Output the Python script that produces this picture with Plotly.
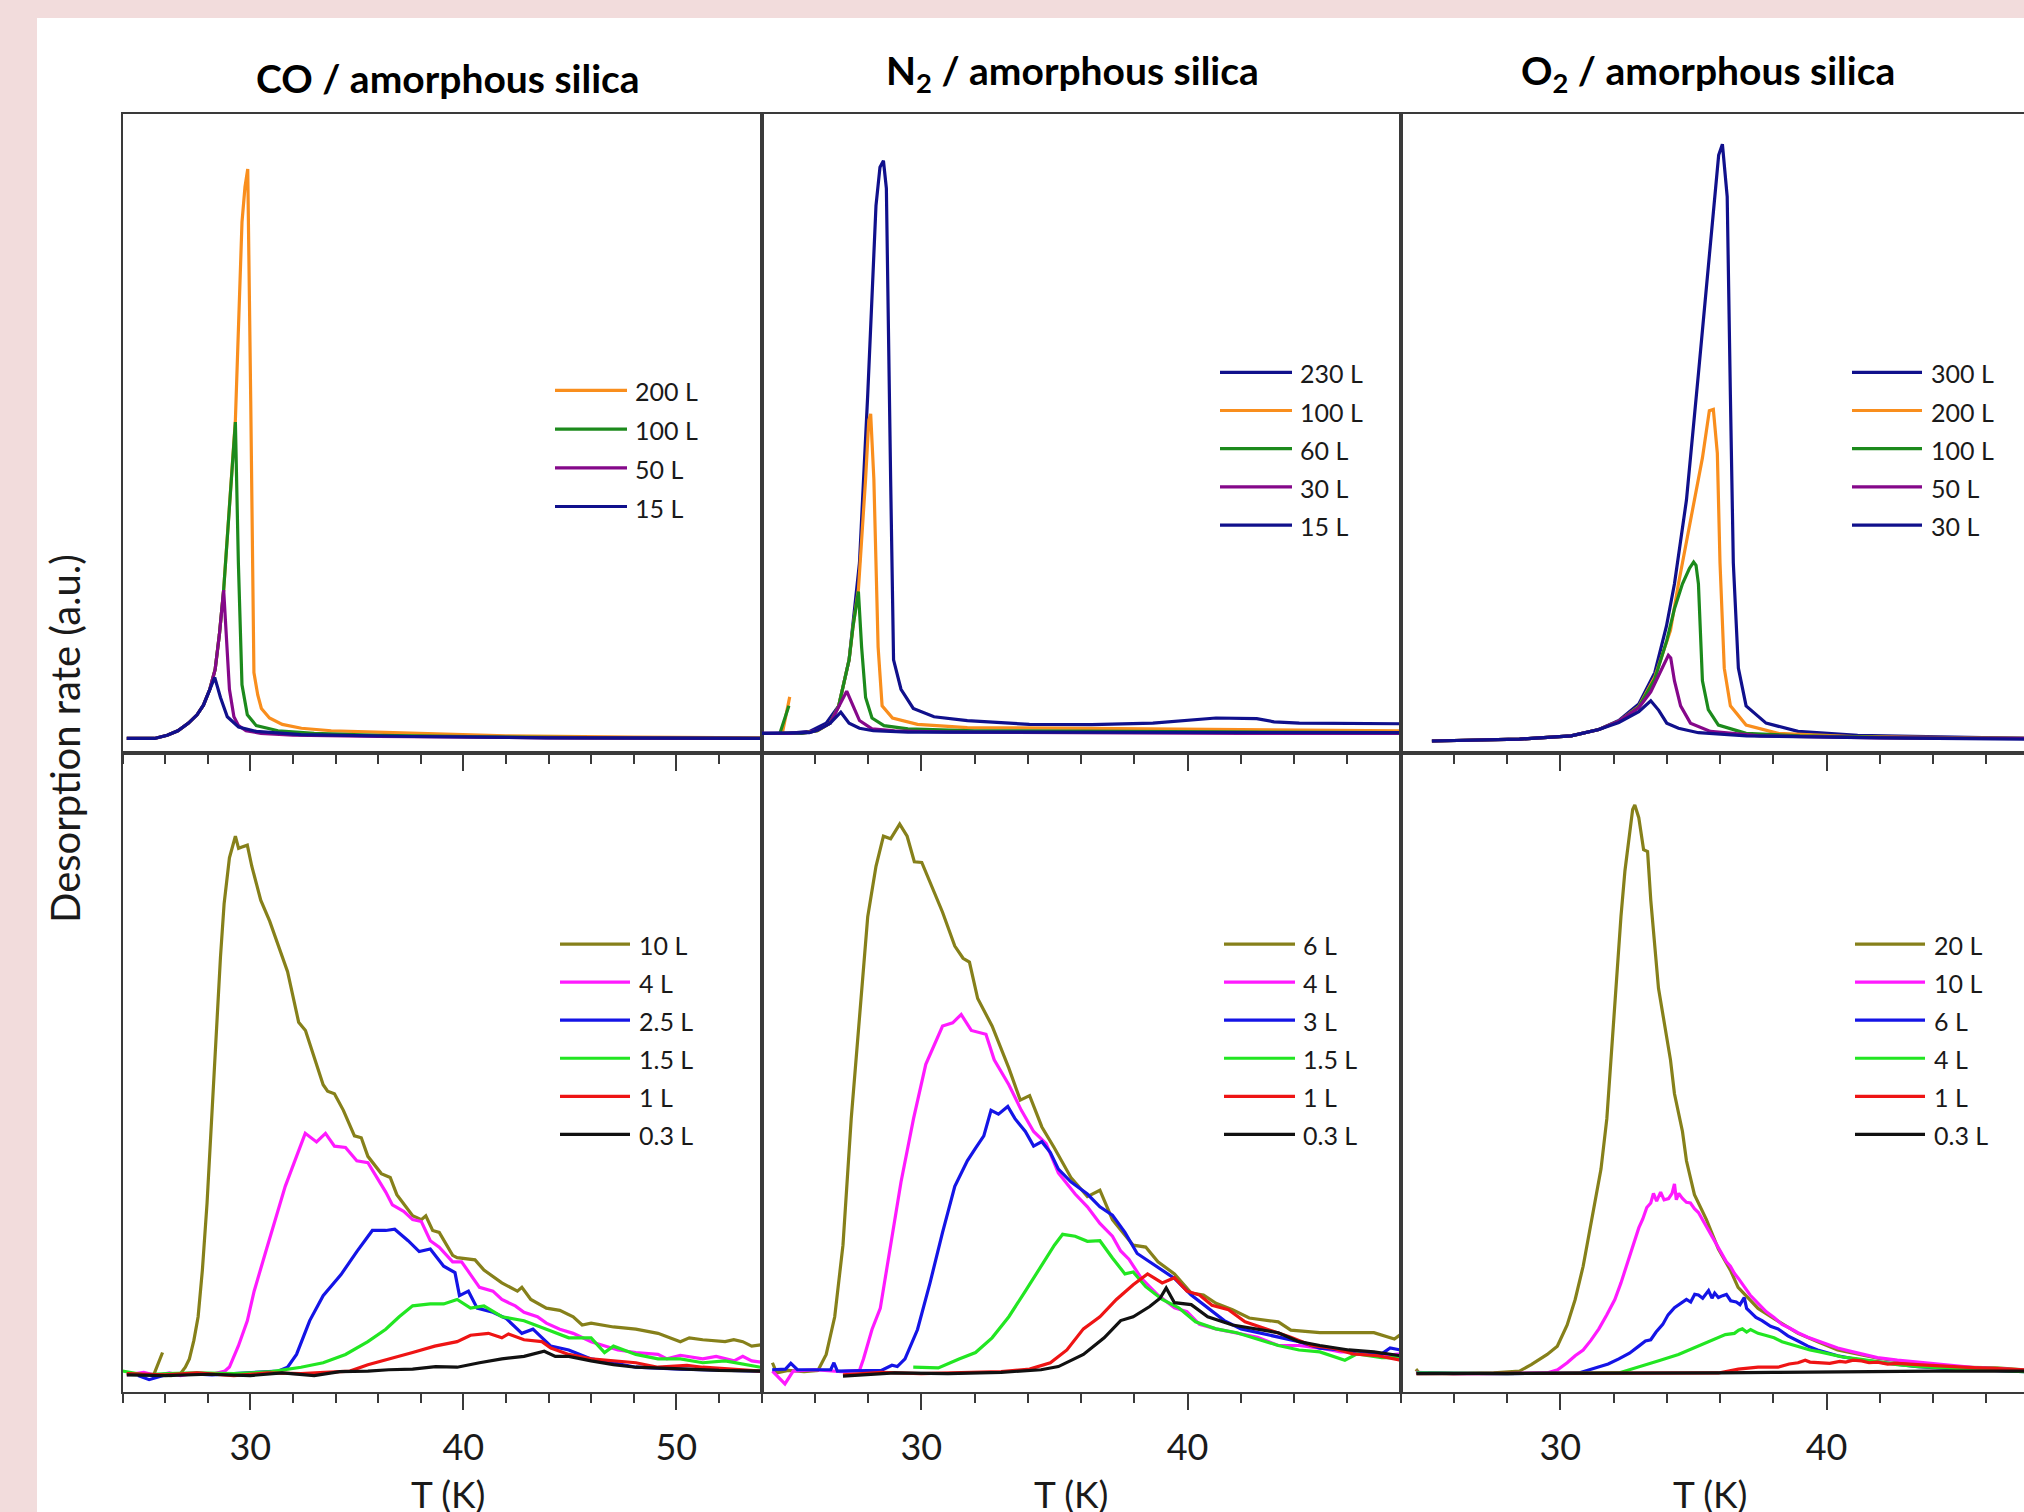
import plotly.graph_objects as go

W, H = 2024, 1512
FONT = "Lato, 'Open Sans', sans-serif"

# ---------------- labels ----------------
PANEL_TITLES = ["CO / amorphous silica", "N<sub>2</sub> / amorphous silica", "O<sub>2</sub> / amorphous silica"]
X_TITLE = "T (K)"
Y_TITLE = "Desorption rate (a.u.)"
X_TICKS_CO = [30, 40, 50]
X_TICKS_N2O2 = [30, 40]

CO_HI_LABELS = ["200 L", "100 L", "50 L", "15 L"]
N2_HI_LABELS = ["230 L", "100 L", "60 L", "30 L", "15 L"]
O2_HI_LABELS = ["300 L", "200 L", "100 L", "50 L", "30 L"]
CO_LO_LABELS = ["10 L", "4 L", "2.5 L", "1.5 L", "1 L", "0.3 L"]
N2_LO_LABELS = ["6 L", "4 L", "3 L", "1.5 L", "1 L", "0.3 L"]
O2_LO_LABELS = ["20 L", "10 L", "6 L", "4 L", "1 L", "0.3 L"]

# ---------------- CO, high exposures ----------------
co_hi_T_200 = [24.2, 25.5, 26.1, 26.6, 27.1, 27.5, 27.8, 28.1, 28.35, 28.55, 28.75, 29.0, 29.3, 29.45, 29.61, 29.75, 29.88, 30.02, 30.17, 30.35, 30.52, 30.9, 31.5, 32.4, 33.8, 35.9, 38.0, 42.0, 48.0, 54.0]
co_hi_R_200 = [2.2, 2.2, 2.7, 3.4, 4.6, 5.9, 7.4, 9.9, 13.0, 18.5, 25.5, 37.5, 52.0, 67.0, 83.0, 88.5, 91.3, 55.0, 12.5, 9.0, 6.9, 5.4, 4.4, 3.8, 3.4, 3.2, 3.0, 2.6, 2.4, 2.3]
co_hi_T_100 = [24.2, 25.5, 26.1, 26.6, 27.1, 27.5, 27.8, 28.1, 28.35, 28.55, 28.75, 29.0, 29.3, 29.44, 29.61, 29.86, 30.28, 31.3, 33.0, 36.0, 42.0, 48.0, 54.0]
co_hi_R_100 = [2.2, 2.2, 2.7, 3.4, 4.6, 5.9, 7.4, 9.9, 13.0, 18.5, 25.5, 37.5, 51.7, 29.7, 10.6, 5.9, 4.2, 3.4, 3.0, 2.7, 2.4, 2.3, 2.2]
co_hi_T_50 = [24.2, 25.5, 26.1, 26.6, 27.1, 27.5, 27.8, 28.1, 28.35, 28.55, 28.75, 29.02, 29.23, 29.45, 29.8, 30.5, 32.0, 36.0, 44.0, 54.0]
co_hi_R_50 = [2.2, 2.2, 2.7, 3.4, 4.6, 5.9, 7.4, 9.9, 13.0, 18.5, 25.4, 9.9, 5.6, 4.2, 3.4, 3.0, 2.7, 2.5, 2.3, 2.2]
co_hi_T_15 = [24.2, 25.5, 26.1, 26.6, 27.1, 27.5, 27.8, 28.1, 28.33, 28.6, 28.92, 29.45, 30.28, 32.37, 37.6, 43.9, 54.0]
co_hi_R_15 = [2.2, 2.2, 2.7, 3.4, 4.6, 5.9, 7.4, 9.9, 11.75, 8.6, 5.6, 4.0, 3.3, 2.8, 2.5, 2.3, 2.2]

# ---------------- N2, high exposures ----------------
n2_hi_T_230 = [24.0, 25.0, 25.81, 26.43, 26.9, 27.29, 27.68, 27.99, 28.3, 28.45, 28.58, 28.69, 28.85, 28.96, 29.24, 29.7, 30.48, 31.73, 34.06, 36.4, 38.7, 40.3, 41.07, 42.6, 43.25, 44.2, 46.0, 48.0]
n2_hi_R_230 = [3.0, 3.0, 3.3, 4.6, 7.3, 14.5, 29.7, 56.0, 85.6, 91.6, 92.6, 88.3, 42.8, 14.5, 9.9, 6.9, 5.6, 5.0, 4.4, 4.35, 4.6, 5.2, 5.4, 5.3, 4.8, 4.6, 4.6, 4.5]
n2_hi_T_100 = [25.06, 24.78, 25.5, 26.1, 26.58, 26.9, 27.29, 27.44, 27.64, 27.76, 27.91, 28.03, 28.1, 28.22, 28.38, 28.53, 28.92, 29.86, 31.73, 35.0, 39.5, 44.2, 48.0]
n2_hi_R_100 = [8.7, 3.0, 3.0, 3.4, 4.6, 7.3, 14.5, 19.8, 25.5, 33.0, 42.8, 52.0, 53.0, 42.8, 16.5, 7.3, 5.4, 4.4, 3.9, 3.8, 3.7, 3.6, 3.4]
n2_hi_T_60 = [25.03, 24.69, 25.5, 26.1, 26.58, 26.9, 27.29, 27.44, 27.64, 27.76, 27.91, 28.15, 28.6, 29.5, 32.0, 38.0, 44.0, 48.0]
n2_hi_R_60 = [7.3, 3.0, 3.0, 3.4, 4.6, 7.3, 14.5, 19.8, 25.2, 16.5, 8.6, 5.4, 4.2, 3.7, 3.4, 3.3, 3.2, 3.1]
n2_hi_T_30 = [24.0, 25.0, 25.8, 26.1, 26.58, 26.9, 27.2, 27.44, 27.68, 28.15, 29.0, 31.0, 36.0, 42.0, 48.0]
n2_hi_R_30 = [3.0, 3.0, 3.2, 3.5, 4.6, 7.3, 9.6, 7.3, 5.0, 3.7, 3.4, 3.2, 3.1, 3.0, 3.0]
n2_hi_T_15 = [24.0, 25.0, 25.8, 26.1, 26.58, 26.98, 27.29, 27.68, 28.2, 29.5, 32.0, 36.9, 42.0, 48.0]
n2_hi_R_15 = [3.0, 3.0, 3.1, 3.5, 4.6, 6.3, 4.6, 3.8, 3.4, 3.2, 3.2, 3.1, 3.1, 3.1]

# ---------------- O2, high exposures ----------------
o2_hi_T_300 = [25.18, 28.47, 30.41, 31.45, 32.2, 32.95, 33.55, 33.99, 34.29, 34.74, 35.19, 35.64, 35.95, 36.09, 36.27, 36.39, 36.5, 36.69, 36.98, 37.73, 38.93, 41.17, 44.9, 47.42]
o2_hi_R_300 = [1.8, 2.1, 2.6, 3.6, 5.0, 7.6, 12.5, 19.8, 26.4, 39.5, 59.3, 79.1, 93.5, 95.2, 87.0, 56.0, 29.7, 13.2, 7.3, 4.6, 3.3, 2.7, 2.35, 2.2]
o2_hi_T_200 = [25.18, 28.47, 30.41, 31.45, 32.2, 32.95, 33.55, 34.14, 34.44, 34.74, 35.04, 35.34, 35.6, 35.75, 35.9, 36.0, 36.16, 36.39, 36.98, 38.18, 41.0, 44.5, 47.42]
o2_hi_R_200 = [1.8, 2.1, 2.6, 3.6, 4.9, 7.2, 11.8, 19.1, 26.4, 33.0, 39.5, 46.1, 53.5, 53.7, 46.8, 29.7, 13.2, 7.3, 4.3, 3.0, 2.5, 2.3, 2.2]
o2_hi_T_100 = [25.18, 28.47, 30.41, 31.45, 32.2, 32.95, 33.55, 34.0, 34.29, 34.59, 34.85, 35.01, 35.1, 35.19, 35.34, 35.56, 35.94, 36.98, 39.0, 43.0, 47.42]
o2_hi_R_100 = [1.8, 2.1, 2.6, 3.6, 4.9, 7.1, 11.5, 17.5, 22.5, 26.4, 28.8, 29.8, 29.3, 26.4, 11.2, 6.7, 4.3, 3.0, 2.6, 2.3, 2.2]
o2_hi_T_50 = [25.18, 28.47, 30.41, 31.45, 32.2, 32.95, 33.4, 33.7, 34.06, 34.15, 34.29, 34.52, 34.89, 35.64, 37.5, 42.0, 47.42]
o2_hi_R_50 = [1.8, 2.1, 2.6, 3.6, 4.9, 7.0, 9.5, 12.0, 15.2, 14.8, 11.2, 7.3, 4.6, 3.3, 2.6, 2.3, 2.2]
o2_hi_T_30 = [25.18, 28.47, 30.41, 31.45, 32.2, 32.95, 33.4, 33.7, 34.0, 34.44, 35.19, 37.0, 42.0, 47.42]
o2_hi_R_30 = [1.8, 2.1, 2.6, 3.6, 4.7, 6.4, 8.1, 6.6, 4.6, 3.8, 3.1, 2.6, 2.3, 2.1]

# ---------------- CO, low exposures ----------------
co_lo_T_10 = [25.88, 25.42, 25.9, 26.3, 26.72, 26.95, 27.14, 27.35, 27.55, 27.75, 27.97, 28.2, 28.39, 28.6, 28.77, 29.02, 29.3, 29.45, 29.61, 29.86, 30.07, 30.49, 30.91, 31.33, 31.75, 32.27, 32.59, 33.42, 33.63, 33.95, 34.37, 34.89, 35.21, 35.52, 36.15, 36.57, 36.88, 37.62, 38.03, 38.24, 38.56, 38.87, 39.5, 39.71, 40.55, 40.97, 41.81, 42.54, 42.75, 43.17, 43.9, 44.53, 45.16, 45.58, 46.0, 47.05, 48.1, 49.14, 50.19, 50.61, 51.24, 52.29, 52.7, 53.12, 53.54, 53.96]
co_lo_R_10 = [6.1, 2.2, 2.6, 2.5, 2.8, 3.8, 5.1, 8.0, 11.7, 19.0, 29.5, 44.0, 55.9, 68.0, 76.3, 83.5, 86.9, 85.0, 85.2, 85.5, 82.2, 76.9, 73.6, 69.7, 65.7, 57.8, 56.5, 48.0, 47.0, 46.6, 44.0, 40.0, 39.7, 36.8, 34.1, 33.5, 30.8, 27.5, 26.9, 27.5, 25.2, 24.9, 21.3, 20.95, 20.6, 19.0, 17.0, 15.7, 16.3, 14.4, 13.05, 12.7, 11.7, 10.4, 10.7, 10.1, 9.75, 9.1, 7.8, 8.4, 8.1, 7.8, 8.1, 7.8, 7.1, 7.3]
co_lo_T_4 = [24.2, 25.0, 25.6, 26.2, 26.72, 27.5, 28.2, 28.81, 29.02, 29.44, 29.86, 30.18, 30.7, 31.22, 31.64, 32.17, 32.58, 33.11, 33.53, 33.95, 34.47, 35.0, 35.52, 35.94, 36.36, 36.67, 37.2, 37.62, 38.03, 38.45, 38.87, 39.5, 39.92, 40.34, 40.76, 41.39, 41.81, 42.44, 42.85, 43.48, 43.9, 44.53, 45.16, 46.0, 46.63, 47.26, 48.1, 49.14, 49.56, 50.19, 51.24, 51.87, 52.71, 53.12, 53.54, 53.96]
co_lo_R_4 = [2.6, 3.0, 2.5, 2.9, 2.5, 2.9, 2.7, 3.2, 3.83, 7.12, 11.07, 15.7, 21.6, 27.5, 32.1, 36.8, 40.4, 39.06, 40.4, 38.4, 38.2, 36.1, 35.8, 33.5, 31.2, 29.2, 28.2, 26.9, 26.6, 23.6, 22.6, 20.3, 20.3, 18.3, 16.3, 15.7, 14.4, 13.4, 12.4, 11.7, 10.7, 9.75, 9.1, 7.8, 7.1, 6.5, 6.1, 5.8, 5.1, 5.67, 5.1, 5.5, 4.8, 5.5, 4.8, 4.6]
co_lo_T_25 = [24.73, 25.25, 26.0, 27.14, 28.2, 29.23, 30.3, 31.33, 31.75, 32.17, 32.79, 33.42, 34.26, 35.0, 35.73, 36.36, 36.78, 37.41, 37.93, 38.45, 39.08, 39.61, 39.82, 40.24, 40.65, 41.39, 42.02, 42.75, 43.27, 44.11, 44.95, 46.0, 47.05, 48.1, 50.19, 52.29, 53.96]
co_lo_R_25 = [2.5, 1.85, 2.6, 2.8, 2.6, 2.8, 2.9, 3.2, 3.8, 5.8, 11.1, 15.0, 18.3, 21.9, 25.2, 25.2, 25.4, 23.6, 21.9, 22.3, 19.6, 18.6, 15.0, 15.7, 13.05, 12.4, 11.4, 9.1, 9.75, 7.1, 6.5, 5.1, 4.5, 3.8, 3.5, 3.4, 3.2]
co_lo_T_15 = [24.0, 25.0, 26.09, 27.5, 29.23, 31.0, 32.38, 33.42, 34.47, 35.52, 36.36, 36.99, 37.62, 38.45, 39.08, 39.71, 40.34, 40.97, 41.81, 42.85, 43.9, 44.95, 46.0, 46.63, 47.05, 48.1, 49.14, 50.19, 51.24, 52.29, 53.96]
co_lo_R_15 = [3.2, 2.6, 2.8, 2.9, 2.8, 3.1, 3.8, 4.5, 5.8, 7.8, 9.75, 11.7, 13.4, 13.7, 13.7, 14.4, 13.05, 13.4, 11.7, 11.07, 9.75, 8.4, 8.4, 6.1, 7.1, 5.8, 5.1, 5.1, 4.5, 4.8, 3.8]
co_lo_T_1 = [24.2, 26.0, 27.5, 29.23, 30.8, 32.38, 33.5, 34.68, 35.52, 36.57, 37.62, 38.66, 39.71, 40.34, 41.18, 41.81, 42.12, 42.85, 43.69, 44.11, 44.95, 46.0, 47.05, 48.1, 49.14, 50.5, 51.24, 52.5, 53.96]
co_lo_R_1 = [2.8, 2.6, 2.9, 2.5, 2.9, 2.8, 3.0, 3.2, 4.2, 5.1, 6.1, 7.1, 7.8, 8.8, 9.1, 8.4, 9.0, 8.1, 7.8, 6.8, 5.8, 5.1, 4.8, 4.5, 3.8, 4.1, 3.8, 3.5, 3.2]
co_lo_T_03 = [24.2, 26.0, 28.0, 30.0, 31.5, 33.0, 34.2, 35.52, 36.5, 37.62, 38.7, 39.71, 40.76, 41.81, 42.85, 43.4, 43.8, 44.32, 44.95, 46.0, 47.05, 48.1, 50.19, 52.0, 53.96]
co_lo_R_03 = [2.6, 2.5, 2.7, 2.5, 2.9, 2.5, 3.1, 3.2, 3.4, 3.5, 3.9, 3.8, 4.5, 5.1, 5.5, 6.0, 6.3, 5.5, 5.5, 4.8, 4.2, 3.8, 3.5, 3.3, 3.2]

# ---------------- N2, low exposures ----------------
n2_lo_T_6 = [24.41, 24.57, 25.0, 25.6, 26.12, 26.43, 26.75, 27.06, 27.37, 27.68, 27.99, 28.3, 28.58, 28.85, 29.19, 29.47, 29.74, 30.02, 30.33, 30.8, 31.26, 31.57, 31.81, 32.12, 32.66, 33.29, 33.72, 34.07, 34.53, 35.0, 35.62, 36.24, 36.71, 37.18, 37.96, 38.43, 38.89, 39.51, 40.14, 40.6, 41.07, 41.69, 42.32, 43.41, 43.88, 44.97, 46.06, 47.0, 47.77, 48.0]
n2_lo_R_6 = [4.5, 2.9, 3.3, 3.1, 3.3, 5.8, 11.7, 22.9, 42.7, 59.1, 74.3, 82.2, 86.9, 86.5, 88.8, 86.9, 82.9, 82.8, 79.6, 75.0, 69.7, 67.8, 67.2, 61.5, 57.2, 50.6, 45.6, 46.3, 41.4, 38.1, 33.5, 30.5, 31.5, 26.9, 22.9, 22.6, 20.3, 18.4, 15.4, 15.1, 13.8, 12.8, 11.5, 10.9, 9.6, 9.2, 9.2, 9.2, 8.2, 8.9]
n2_lo_T_4 = [24.41, 24.88, 25.19, 26.0, 27.0, 27.68, 27.83, 28.15, 28.46, 28.77, 29.24, 29.71, 30.17, 30.8, 31.18, 31.5, 31.88, 32.43, 32.74, 33.29, 33.76, 34.22, 34.69, 35.15, 35.78, 36.24, 36.71, 37.18, 37.49, 37.8, 38.27, 38.89, 39.51, 39.98, 40.45, 41.07, 41.85, 42.63, 43.41, 44.19, 44.97, 45.75, 46.52, 47.3, 48.0]
n2_lo_R_4 = [3.2, 1.2, 3.2, 3.4, 3.1, 3.3, 5.1, 9.7, 13.0, 20.9, 32.8, 42.7, 51.2, 57.2, 57.7, 59.0, 56.5, 55.9, 51.9, 48.0, 44.0, 40.7, 38.8, 34.2, 30.9, 28.9, 26.3, 24.3, 22.0, 20.7, 17.7, 15.1, 13.1, 12.5, 10.5, 9.8, 9.2, 8.5, 7.2, 7.2, 6.8, 6.2, 6.2, 5.6, 5.9]
n2_lo_T_3 = [24.4, 24.9, 25.1, 25.35, 26.6, 26.72, 26.85, 28.5, 28.9, 29.1, 29.39, 29.86, 30.33, 30.8, 31.26, 31.73, 32.04, 32.35, 32.62, 32.9, 33.25, 33.52, 33.91, 34.22, 34.53, 34.85, 35.15, 35.62, 36.24, 36.71, 37.18, 37.65, 38.11, 38.58, 39.05, 39.51, 40.14, 40.76, 41.38, 42.01, 42.63, 43.41, 44.19, 44.97, 45.75, 46.52, 47.3, 47.61, 48.0]
n2_lo_R_3 = [3.4, 3.5, 4.4, 3.4, 3.4, 4.5, 3.2, 3.3, 4.1, 3.9, 5.1, 9.7, 17.0, 24.9, 32.1, 36.1, 38.1, 40.0, 44.0, 43.4, 44.6, 42.7, 40.7, 38.4, 39.1, 37.4, 34.8, 32.8, 30.9, 28.9, 27.6, 24.9, 21.6, 20.3, 19.0, 17.7, 15.1, 13.1, 11.1, 9.8, 9.2, 8.5, 7.8, 6.8, 6.5, 5.9, 5.9, 6.8, 6.5]
n2_lo_T_15 = [29.7, 30.64, 31.42, 32.04, 32.66, 33.29, 33.91, 34.53, 35.0, 35.31, 35.78, 36.24, 36.71, 37.18, 37.65, 37.96, 38.43, 39.05, 39.67, 40.3, 41.07, 41.85, 42.63, 43.41, 44.19, 44.97, 45.91, 46.37, 47.3, 48.0]
n2_lo_R_15 = [3.8, 3.7, 5.1, 6.1, 8.4, 11.7, 15.7, 19.7, 22.9, 24.6, 24.3, 23.5, 23.6, 20.9, 18.4, 18.7, 16.4, 14.4, 13.1, 10.9, 9.8, 9.2, 8.2, 7.2, 6.5, 6.2, 4.9, 5.9, 5.3, 5.3]
n2_lo_T_1 = [27.06, 28.5, 30.0, 32.0, 33.0, 34.07, 34.85, 35.47, 36.09, 36.71, 37.33, 37.96, 38.5, 39.05, 39.51, 39.98, 40.45, 40.92, 41.54, 42.16, 42.94, 43.88, 44.66, 45.44, 46.21, 47.15, 48.0]
n2_lo_R_1 = [2.6, 3.0, 2.8, 3.0, 3.1, 3.5, 4.5, 6.5, 9.8, 11.7, 14.4, 16.7, 18.4, 17.0, 17.8, 15.7, 15.1, 13.5, 12.8, 10.9, 9.8, 8.5, 7.2, 6.8, 5.9, 5.6, 4.9]
n2_lo_T_03 = [27.06, 29.0, 31.0, 33.0, 34.5, 35.15, 36.09, 36.87, 37.49, 37.96, 38.58, 38.97, 39.2, 39.51, 40.14, 40.76, 41.69, 42.63, 43.41, 44.19, 44.97, 46.06, 47.0, 48.0]
n2_lo_R_03 = [2.4, 2.9, 2.8, 3.0, 3.4, 3.9, 5.8, 8.4, 11.1, 11.7, 13.3, 14.6, 16.2, 13.9, 13.6, 11.7, 10.4, 9.8, 9.2, 7.8, 7.2, 6.5, 6.2, 5.6]

# ---------------- O2, low exposures ----------------
o2_lo_T_20 = [24.58, 24.7, 26.0, 27.5, 28.47, 28.91, 29.51, 29.89, 30.26, 30.56, 30.86, 31.15, 31.3, 31.53, 31.75, 31.9, 32.13, 32.28, 32.43, 32.57, 32.72, 32.8, 32.95, 33.13, 33.28, 33.4, 33.69, 34.14, 34.29, 34.59, 34.74, 35.04, 35.49, 35.94, 36.39, 36.68, 36.98, 37.43, 38.03, 38.93, 39.67, 40.42, 41.92, 43.41, 44.9, 46.4, 47.42]
o2_lo_R_20 = [3.5, 2.9, 2.8, 2.9, 3.2, 4.2, 5.8, 7.1, 10.4, 14.4, 19.6, 26.2, 29.5, 34.8, 42.7, 51.9, 65.1, 74.3, 81.5, 86.2, 91.1, 91.8, 89.8, 84.8, 84.5, 76.9, 63.1, 51.9, 46.6, 40.7, 36.1, 30.8, 26.9, 22.3, 19.0, 16.3, 15.0, 13.0, 11.4, 9.1, 7.8, 6.5, 5.2, 4.4, 3.8, 3.7, 3.4]
o2_lo_T_10 = [24.58, 26.0, 28.0, 29.5, 29.9, 30.26, 30.56, 30.86, 31.15, 31.45, 31.75, 32.05, 32.28, 32.5, 32.72, 32.95, 33.1, 33.25, 33.4, 33.5, 33.62, 33.77, 33.9, 34.07, 34.2, 34.29, 34.36, 34.45, 34.59, 34.74, 34.89, 35.04, 35.19, 35.34, 35.49, 35.64, 35.79, 35.94, 36.09, 36.24, 36.39, 36.54, 36.69, 36.84, 36.98, 37.13, 37.43, 37.73, 38.03, 38.33, 38.63, 38.93, 39.3, 39.67, 40.05, 40.42, 40.8, 41.17, 41.55, 41.91, 42.66, 43.41, 44.16, 44.9, 45.65, 46.4, 47.42]
o2_lo_R_10 = [3.0, 2.8, 2.8, 2.9, 3.4, 4.5, 5.6, 6.5, 8.0, 9.8, 12.0, 14.4, 17.0, 19.7, 22.5, 25.6, 27.0, 28.8, 29.5, 31.0, 29.8, 31.2, 30.0, 30.2, 31.0, 32.5, 30.0, 31.0, 30.2, 29.6, 29.5, 28.6, 28.0, 26.9, 25.8, 24.8, 23.6, 22.5, 21.6, 20.3, 19.6, 18.5, 17.7, 16.8, 15.8, 15.1, 13.8, 12.5, 11.6, 10.5, 9.9, 9.2, 8.5, 7.9, 7.4, 6.8, 6.4, 6.0, 5.7, 5.3, 4.9, 4.6, 4.2, 3.9, 3.7, 3.6, 3.3]
o2_lo_T_6 = [24.6, 28.0, 30.7, 31.45, 31.8, 32.2, 32.6, 32.95, 33.2, 33.4, 33.6, 33.85, 34.05, 34.29, 34.5, 34.74, 34.9, 35.05, 35.19, 35.35, 35.57, 35.7, 35.8, 35.94, 36.1, 36.24, 36.4, 36.61, 36.75, 36.91, 37.0, 37.13, 37.35, 37.58, 37.9, 38.18, 38.55, 38.93, 39.3, 39.67, 40.05, 40.42, 41.17, 41.91, 42.66, 43.41, 44.5, 45.65, 47.42]
o2_lo_R_6 = [2.9, 2.8, 2.9, 3.8, 4.3, 5.1, 6.0, 7.1, 7.9, 8.1, 9.3, 10.5, 12.0, 13.1, 13.7, 14.4, 14.0, 15.2, 15.1, 14.6, 15.8, 14.6, 15.4, 14.7, 15.0, 15.2, 14.2, 14.0, 13.6, 14.7, 13.0, 12.5, 11.6, 11.1, 10.2, 9.8, 8.7, 7.9, 7.1, 6.5, 6.0, 5.6, 5.0, 4.6, 4.2, 3.9, 3.6, 3.4, 3.1]
o2_lo_T_4 = [24.6, 28.0, 32.2, 32.95, 33.7, 34.44, 35.19, 35.6, 35.94, 36.2, 36.54, 36.7, 36.84, 37.0, 37.15, 37.43, 37.7, 38.03, 38.33, 38.63, 39.0, 39.38, 39.75, 40.12, 40.6, 41.17, 42.0, 42.66, 43.5, 44.9, 46.2, 47.42]
o2_lo_R_4 = [2.9, 2.8, 2.9, 3.8, 4.8, 5.8, 7.1, 7.9, 8.4, 8.9, 9.1, 9.6, 9.8, 9.3, 9.7, 9.1, 8.8, 8.4, 7.8, 7.4, 6.9, 6.5, 6.2, 5.8, 5.4, 5.1, 4.6, 4.2, 3.9, 3.6, 3.3, 3.1]
o2_lo_T_1 = [24.6, 30.0, 33.0, 35.94, 36.69, 37.43, 38.18, 38.6, 38.93, 39.2, 39.38, 39.8, 40.12, 40.5, 40.72, 41.0, 41.32, 41.6, 41.91, 42.3, 42.66, 43.41, 44.16, 44.9, 45.65, 46.4, 47.42]
o2_lo_R_1 = [2.8, 2.8, 2.8, 2.9, 3.5, 3.8, 3.8, 4.3, 4.5, 4.9, 4.6, 4.5, 4.4, 4.7, 4.6, 4.9, 4.8, 4.5, 4.6, 4.3, 4.4, 4.2, 4.0, 3.9, 3.7, 3.6, 3.4]
o2_lo_T_03 = [24.6, 28.0, 32.0, 36.0, 38.0, 40.0, 42.0, 44.0, 46.0, 47.42]
o2_lo_R_03 = [2.8, 2.8, 2.8, 2.9, 3.0, 3.1, 3.2, 3.2, 3.2, 3.2]

# ---------------- styling ----------------
ORANGE = "#f98e1d"
DKGREEN = "#1c8a1c"
PURPLE = "#85088a"
NAVY = "#10108c"
OLIVE = "#86801a"
MAGENTA = "#ff1aff"
BLUE = "#1414e6"
LIME = "#22e622"
RED = "#ee1414"
BLACK = "#111111"
AX = "#3a3a3a"
TXT = "#1a1a1a"
PINK = "#f2dcdc"

HI_CO_COLORS = [ORANGE, DKGREEN, PURPLE, NAVY]
HI_COLORS = [NAVY, ORANGE, DKGREEN, PURPLE, NAVY]
LO_COLORS = [OLIVE, MAGENTA, BLUE, LIME, RED, BLACK]

# panel geometry in pixels
PX_X = [(122.5, 761.5), (761.5, 1400.5), (1400.5, 2024.0)]
PX_Y_TOP = (113.5, 752.5)
PX_Y_BOT = (752.5, 1391.5)
X_RANGES = [[24, 54], [24, 48], [24, 24 + (2024 - 1400.5) / 26.625]]

panels = [
    dict(col=0, row=0, labels=CO_HI_LABELS, colors=HI_CO_COLORS,
         series=[(co_hi_T_200, co_hi_R_200), (co_hi_T_100, co_hi_R_100), (co_hi_T_50, co_hi_R_50), (co_hi_T_15, co_hi_R_15)],
         leg=(555, 627, 633, 390.4, 38.7)),
    dict(col=1, row=0, labels=N2_HI_LABELS, colors=HI_COLORS,
         series=[(n2_hi_T_230, n2_hi_R_230), (n2_hi_T_100, n2_hi_R_100), (n2_hi_T_60, n2_hi_R_60), (n2_hi_T_30, n2_hi_R_30), (n2_hi_T_15, n2_hi_R_15)],
         leg=(1220, 1292, 1298, 372.3, 38.2)),
    dict(col=2, row=0, labels=O2_HI_LABELS, colors=HI_COLORS,
         series=[(o2_hi_T_300, o2_hi_R_300), (o2_hi_T_200, o2_hi_R_200), (o2_hi_T_100, o2_hi_R_100), (o2_hi_T_50, o2_hi_R_50), (o2_hi_T_30, o2_hi_R_30)],
         leg=(1852, 1922, 1929, 372.3, 38.2)),
    dict(col=0, row=1, labels=CO_LO_LABELS, colors=LO_COLORS,
         series=[(co_lo_T_10, co_lo_R_10), (co_lo_T_4, co_lo_R_4), (co_lo_T_25, co_lo_R_25), (co_lo_T_15, co_lo_R_15), (co_lo_T_1, co_lo_R_1), (co_lo_T_03, co_lo_R_03)],
         leg=(560, 630, 637, 944.1, 38.05)),
    dict(col=1, row=1, labels=N2_LO_LABELS, colors=LO_COLORS,
         series=[(n2_lo_T_6, n2_lo_R_6), (n2_lo_T_4, n2_lo_R_4), (n2_lo_T_3, n2_lo_R_3), (n2_lo_T_15, n2_lo_R_15), (n2_lo_T_1, n2_lo_R_1), (n2_lo_T_03, n2_lo_R_03)],
         leg=(1224, 1295, 1301, 944.1, 38.05)),
    dict(col=2, row=1, labels=O2_LO_LABELS, colors=LO_COLORS,
         series=[(o2_lo_T_20, o2_lo_R_20), (o2_lo_T_10, o2_lo_R_10), (o2_lo_T_6, o2_lo_R_6), (o2_lo_T_4, o2_lo_R_4), (o2_lo_T_1, o2_lo_R_1), (o2_lo_T_03, o2_lo_R_03)],
         leg=(1855, 1925, 1932, 944.1, 38.05)),
]


def fx(px):
    return px / W


def fy(py):
    return 1 - py / H


fig = go.Figure()
shapes = [dict(type="rect", xref="paper", yref="paper", x0=fx(37), x1=1, y0=0, y1=fy(18),
               fillcolor="white", line=dict(width=0), layer="below")]
annotations = []
layout_axes = {}

for i, p in enumerate(panels):
    n = "" if i == 0 else str(i + 1)
    for (T, R), lab, col in zip(p["series"], p["labels"], p["colors"]):
        assert len(T) == len(R), lab
        fig.add_trace(go.Scatter(x=T, y=R, mode="lines", name=lab, showlegend=False,
                                 line=dict(color=col, width=3.2, shape="linear"),
                                 xaxis="x" + n, yaxis="y" + n, hoverinfo="skip"))
    xd = PX_X[p["col"]]
    yd = PX_Y_TOP if p["row"] == 0 else PX_Y_BOT
    bottom_row = p["row"] == 1
    ticks_vals = X_TICKS_CO if p["col"] == 0 else X_TICKS_N2O2
    layout_axes["xaxis" + n] = dict(
        domain=[fx(xd[0]), fx(xd[1])], range=X_RANGES[p["col"]], anchor="y" + n,
        showgrid=False, zeroline=False, showline=True, mirror=True, linecolor=AX, linewidth=2,
        ticks="outside", ticklen=16, tickwidth=2, tickcolor=AX,
        tickmode="array", tickvals=ticks_vals, ticktext=[str(v) for v in ticks_vals],
        showticklabels=bottom_row, ticklabelstandoff=7,
        tickfont=dict(family=FONT, size=36, color=TXT),
        minor=dict(ticks="outside", ticklen=9, tickwidth=2, tickcolor=AX, dtick=2, tick0=0, showgrid=False),
        fixedrange=True,
    )
    layout_axes["yaxis" + n] = dict(
        domain=[fy(yd[1]), fy(yd[0])], range=[0, 100], anchor="x" + n,
        showgrid=False, zeroline=False, showline=True, mirror=(p["col"] != 2),
        linecolor=AX, linewidth=2, ticks="", showticklabels=False, fixedrange=True,
    )
    # legend block
    x0, x1, xt, y0, dy = p["leg"]
    for k, (lab, col) in enumerate(zip(p["labels"], p["colors"])):
        yy = y0 + k * dy
        shapes.append(dict(type="line", xref="paper", yref="paper", x0=fx(x0), x1=fx(x1),
                           y0=fy(yy), y1=fy(yy), line=dict(color=col, width=3.2)))
        annotations.append(dict(xref="paper", yref="paper", x=fx(xt), y=fy(yy + 1), text=lab,
                                showarrow=False, xanchor="left", yanchor="middle",
                                font=dict(family=FONT, size=25, color=TXT)))

# panel titles
for (cx, cy), t in zip([(448, 78), (1072, 73), (1708, 73)], PANEL_TITLES):
    annotations.append(dict(xref="paper", yref="paper", x=fx(cx), y=fy(cy), text="<b>" + t + "</b>",
                            showarrow=False, xanchor="center", yanchor="middle",
                            font=dict(family=FONT, size=39, color="#000000")))
# x titles
for cx in [448, 1071, 1710]:
    annotations.append(dict(xref="paper", yref="paper", x=fx(cx), y=fy(1493), text=X_TITLE,
                            showarrow=False, xanchor="center", yanchor="middle",
                            font=dict(family=FONT, size=37, color=TXT)))
# y title
annotations.append(dict(xref="paper", yref="paper", x=fx(65), y=fy(739), text=Y_TITLE, textangle=-90,
                        showarrow=False, xanchor="center", yanchor="middle",
                        font=dict(family=FONT, size=40, color=TXT)))

fig.update_layout(
    width=W, height=H, autosize=False,
    margin=dict(l=0, r=0, t=0, b=0, pad=0),
    paper_bgcolor=PINK, plot_bgcolor="rgba(0,0,0,0)",
    showlegend=False, shapes=shapes, annotations=annotations,
    font=dict(family=FONT, color=TXT),
    **layout_axes,
)

fig.write_html("out.html", config={"displayModeBar": False},
               post_script="document.body.style.margin='0px';document.body.style.overflow='hidden';")
